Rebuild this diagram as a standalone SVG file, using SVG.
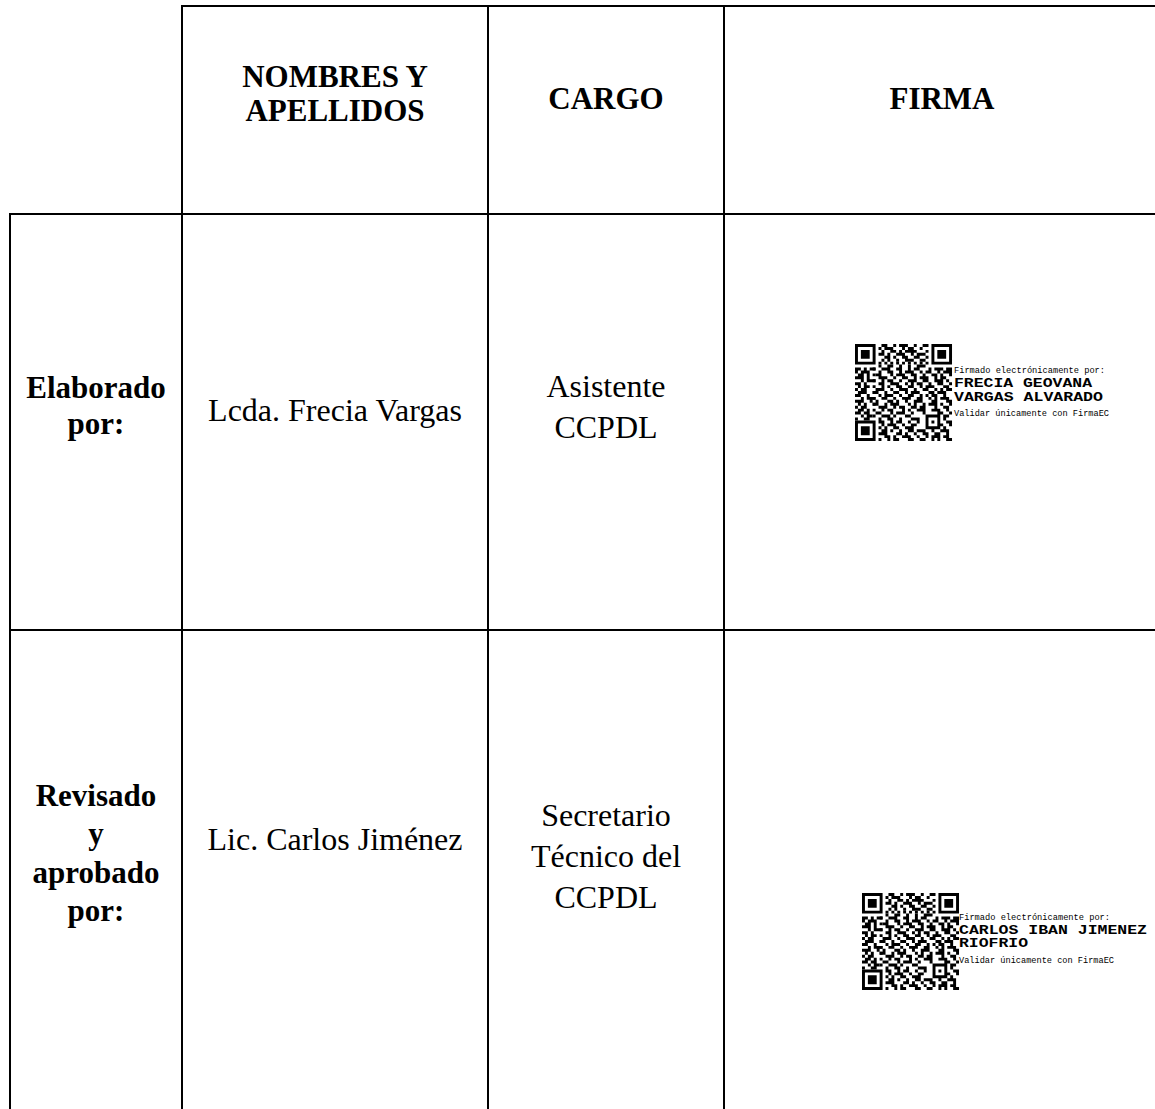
<svg xmlns="http://www.w3.org/2000/svg" xmlns:xlink="http://www.w3.org/1999/xlink" width="1155" height="1109" viewBox="0 0 1155 1109">
<style>
.g{stroke:#000;stroke-width:2;fill:none}
.h{font-family:"Liberation Serif","Times New Roman",serif;font-weight:bold;font-size:31px;fill:#000;text-anchor:middle}
.b{font-family:"Liberation Serif","Times New Roman",serif;font-size:32px;fill:#000;text-anchor:middle}
.s{font-family:"Liberation Mono","Courier New",monospace;font-size:8.7px;fill:#000}
.n{font-family:"Liberation Mono","Courier New",monospace;font-size:12px;font-weight:bold;fill:#000}
</style>
<defs>
<g id="qr" fill="#000">
<path fill-rule="evenodd" d="M0 0h7v7h-7zM1 1v5h5v-5zM2 2h3v3h-3z M26 0h7v7h-7zM27 1v5h5v-5zM28 2h3v3h-3z M0 26h7v7h-7zM1 27v5h5v-5zM2 28h3v3h-3z"/>
<path d="M8 6h1v1h-1zM10 6h1v1h-1zM12 6h1v1h-1zM14 6h1v1h-1zM16 6h1v1h-1zM18 6h1v1h-1zM20 6h1v1h-1zM22 6h1v1h-1zM24 6h1v1h-1z M6 8h1v1h-1zM6 10h1v1h-1zM6 12h1v1h-1zM6 14h1v1h-1zM6 16h1v1h-1zM6 18h1v1h-1zM6 20h1v1h-1zM6 22h1v1h-1zM6 24h1v1h-1z"/>
<path d="M9 0h2v1h-2zM13 0h1v1h-1zM15 0h3v1h-3zM20 0h1v1h-1zM23 0h2v1h-2z
M8 1h1v1h-1zM10 1h3v1h-3zM16 1h1v1h-1zM18 1h2v1h-2zM22 1h1v1h-1z
M9 2h1v1h-1zM12 2h2v1h-2zM15 2h1v1h-1zM17 2h4v1h-4zM24 2h1v1h-1z
M8 3h2v1h-2zM11 3h1v1h-1zM14 3h3v1h-3zM19 3h1v1h-1zM21 3h3v1h-3z
M10 4h2v1h-2zM13 4h1v1h-1zM16 4h2v1h-2zM20 4h2v1h-2zM24 4h1v1h-1z
M9 5h1v1h-1zM11 5h1v1h-1zM14 5h1v1h-1zM17 5h3v1h-3zM22 5h2v1h-2z
M8 7h1v1h-1zM11 7h2v1h-2zM15 7h1v1h-1zM18 7h1v1h-1zM21 7h3v1h-3z
M0 8h2v1h-2zM3 8h1v1h-1zM5 8h2v1h-2zM9 8h3v1h-3zM14 8h2v1h-2zM18 8h1v1h-1zM20 8h2v1h-2zM25 8h1v1h-1zM27 8h3v1h-3zM31 8h2v1h-2z
M0 9h1v1h-1zM2 9h3v1h-3zM8 9h1v1h-1zM11 9h2v1h-2zM15 9h1v1h-1zM17 9h3v1h-3zM22 9h1v1h-1zM24 9h2v1h-2zM28 9h1v1h-1zM30 9h3v1h-3z
M1 10h2v1h-2zM4 10h1v1h-1zM7 10h2v1h-2zM12 10h1v1h-1zM14 10h3v1h-3zM19 10h2v1h-2zM23 10h1v1h-1zM26 10h2v1h-2zM29 10h1v1h-1zM32 10h1v1h-1z
M0 11h3v1h-3zM4 11h1v1h-1zM8 11h3v1h-3zM13 11h1v1h-1zM16 11h2v1h-2zM20 11h1v1h-1zM22 11h3v1h-3zM27 11h1v1h-1zM29 11h2v1h-2z
M2 12h1v1h-1zM4 12h3v1h-3zM9 12h1v1h-1zM11 12h2v1h-2zM15 12h1v1h-1zM18 12h3v1h-3zM23 12h2v1h-2zM27 12h3v1h-3zM31 12h1v1h-1z
M0 13h2v1h-2zM3 13h1v1h-1zM8 13h2v1h-2zM12 13h3v1h-3zM17 13h1v1h-1zM19 13h1v1h-1zM21 13h2v1h-2zM25 13h1v1h-1zM28 13h2v1h-2zM32 13h1v1h-1z
M1 14h1v1h-1zM3 14h2v1h-2zM9 14h1v1h-1zM11 14h1v1h-1zM14 14h2v1h-2zM18 14h2v1h-2zM22 14h1v1h-1zM24 14h3v1h-3zM30 14h2v1h-2z
M0 15h1v1h-1zM2 15h2v1h-2zM7 15h3v1h-3zM12 15h1v1h-1zM15 15h3v1h-3zM20 15h1v1h-1zM23 15h2v1h-2zM27 15h1v1h-1zM29 15h1v1h-1zM31 15h2v1h-2z
M1 16h3v1h-3zM6 16h2v1h-2zM10 16h1v1h-1zM13 16h2v1h-2zM17 16h1v1h-1zM19 16h3v1h-3zM25 16h2v1h-2zM28 16h3v1h-3z
M0 17h2v1h-2zM4 17h1v1h-1zM8 17h1v1h-1zM10 17h3v1h-3zM15 17h1v1h-1zM18 17h2v1h-2zM22 17h1v1h-1zM24 17h1v1h-1zM26 17h2v1h-2zM30 17h1v1h-1z
M2 18h1v1h-1zM4 18h3v1h-3zM9 18h2v1h-2zM13 18h1v1h-1zM16 18h3v1h-3zM21 18h2v1h-2zM25 18h1v1h-1zM27 18h1v1h-1zM29 18h3v1h-3z
M0 19h3v1h-3zM5 19h1v1h-1zM7 19h1v1h-1zM11 19h2v1h-2zM14 19h1v1h-1zM17 19h1v1h-1zM20 19h3v1h-3zM26 19h2v1h-2zM31 19h2v1h-2z
M1 20h1v1h-1zM3 20h1v1h-1zM6 20h2v1h-2zM10 20h1v1h-1zM12 20h3v1h-3zM18 20h1v1h-1zM20 20h1v1h-1zM23 20h1v1h-1zM25 20h3v1h-3zM29 20h1v1h-1zM32 20h1v1h-1z
M0 21h1v1h-1zM2 21h2v1h-2zM8 21h3v1h-3zM13 21h1v1h-1zM15 21h2v1h-2zM19 21h2v1h-2zM22 21h2v1h-2zM27 21h1v1h-1zM30 21h2v1h-2z
M1 22h2v1h-2zM4 22h1v1h-1zM9 22h1v1h-1zM11 22h2v1h-2zM16 22h1v1h-1zM18 22h1v1h-1zM21 22h3v1h-3zM26 22h3v1h-3zM31 22h1v1h-1z
M0 23h2v1h-2zM3 23h2v1h-2zM7 23h2v1h-2zM12 23h1v1h-1zM14 23h3v1h-3zM19 23h1v1h-1zM23 23h1v1h-1zM28 23h2v1h-2zM32 23h1v1h-1z
M2 24h1v1h-1zM4 24h2v1h-2zM9 24h3v1h-3zM13 24h1v1h-1zM17 24h2v1h-2zM24 24h5v1h-5zM30 24h2v1h-2z
M0 25h1v1h-1zM3 25h2v1h-2zM8 25h1v1h-1zM11 25h2v1h-2zM15 25h1v1h-1zM19 25h3v1h-3zM24 25h1v1h-1zM28 25h1v1h-1zM30 25h1v1h-1z
M8 26h2v1h-2zM12 26h1v1h-1zM14 26h2v1h-2zM18 26h1v1h-1zM21 26h1v1h-1zM24 26h1v1h-1zM26 26h1v1h-1zM28 26h1v1h-1zM31 26h2v1h-2z
M9 27h1v1h-1zM11 27h3v1h-3zM16 27h1v1h-1zM19 27h2v1h-2zM24 27h1v1h-1zM28 27h2v1h-2zM32 27h1v1h-1z
M8 28h1v1h-1zM10 28h1v1h-1zM13 28h2v1h-2zM17 28h3v1h-3zM24 28h5v1h-5zM30 28h1v1h-1z
M9 29h2v1h-2zM12 29h1v1h-1zM15 29h1v1h-1zM18 29h2v1h-2zM21 29h3v1h-3zM26 29h1v1h-1zM29 29h3v1h-3z
M8 30h3v1h-3zM14 30h2v1h-2zM17 30h1v1h-1zM20 30h1v1h-1zM23 30h2v1h-2zM27 30h2v1h-2zM31 30h1v1h-1z
M10 31h2v1h-2zM13 31h1v1h-1zM16 31h3v1h-3zM21 31h1v1h-1zM24 31h1v1h-1zM26 31h3v1h-3zM30 31h2v1h-2z
M8 32h1v1h-1zM11 32h1v1h-1zM13 32h2v1h-2zM18 32h2v1h-2zM22 32h2v1h-2zM26 32h1v1h-1zM28 32h1v1h-1zM31 32h2v1h-2z"/>
</g>
</defs>
<rect width="1155" height="1109" fill="#fff"/>
<g id="grid" class="g">
<line x1="182" y1="6" x2="1160" y2="6"/>
<line x1="9" y1="214" x2="1160" y2="214"/>
<line x1="9" y1="630" x2="1160" y2="630"/>
<line x1="10" y1="213" x2="10" y2="1110"/>
<line x1="182" y1="5" x2="182" y2="1110"/>
<line x1="488" y1="5" x2="488" y2="1110"/>
<line x1="724" y1="5" x2="724" y2="1110"/>
</g>
<g id="header">
<text class="h" x="335" y="87">NOMBRES Y</text>
<text class="h" x="335" y="121">APELLIDOS</text>
<text class="h" x="606" y="109">CARGO</text>
<text class="h" x="942" y="109">FIRMA</text>
</g>
<g id="row1-label"><text class="h" x="96" y="398">Elaborado</text><text class="h" x="96" y="434">por:</text></g>
<g id="row1-name"><text class="b" x="335" y="421">Lcda. Frecia Vargas</text></g>
<g id="row1-cargo"><text class="b" x="606" y="397">Asistente</text><text class="b" x="606" y="438">CCPDL</text></g>
<g id="row1-firma">
<use xlink:href="#qr" transform="translate(855,344) scale(2.94)"/>
<text class="s" x="954" y="373" textLength="151" lengthAdjust="spacingAndGlyphs">Firmado electrónicamente por:</text>
<text class="n" x="954" y="387" textLength="138" lengthAdjust="spacingAndGlyphs">FRECIA GEOVANA</text>
<text class="n" x="954" y="400.5" textLength="149" lengthAdjust="spacingAndGlyphs">VARGAS ALVARADO</text>
<text class="s" x="954" y="416" textLength="155" lengthAdjust="spacingAndGlyphs">Validar únicamente con FirmaEC</text>
</g>
<g id="row2-label"><text class="h" x="96" y="806">Revisado</text><text class="h" x="96" y="844">y</text><text class="h" x="96" y="883">aprobado</text><text class="h" x="96" y="921">por:</text></g>
<g id="row2-name"><text class="b" x="335" y="850">Lic. Carlos Jiménez</text></g>
<g id="row2-cargo"><text class="b" x="606" y="826">Secretario</text><text class="b" x="606" y="867">Técnico del</text><text class="b" x="606" y="908">CCPDL</text></g>
<g id="row2-firma">
<use xlink:href="#qr" transform="translate(862,893) scale(2.94)"/>
<text class="s" x="959" y="919.5" textLength="151" lengthAdjust="spacingAndGlyphs">Firmado electrónicamente por:</text>
<text class="n" x="959" y="933.5" textLength="188" lengthAdjust="spacingAndGlyphs">CARLOS IBAN JIMENEZ</text>
<text class="n" x="959" y="947" textLength="69" lengthAdjust="spacingAndGlyphs">RIOFRIO</text>
<text class="s" x="959" y="963" textLength="155" lengthAdjust="spacingAndGlyphs">Validar únicamente con FirmaEC</text>
</g>
</svg>
